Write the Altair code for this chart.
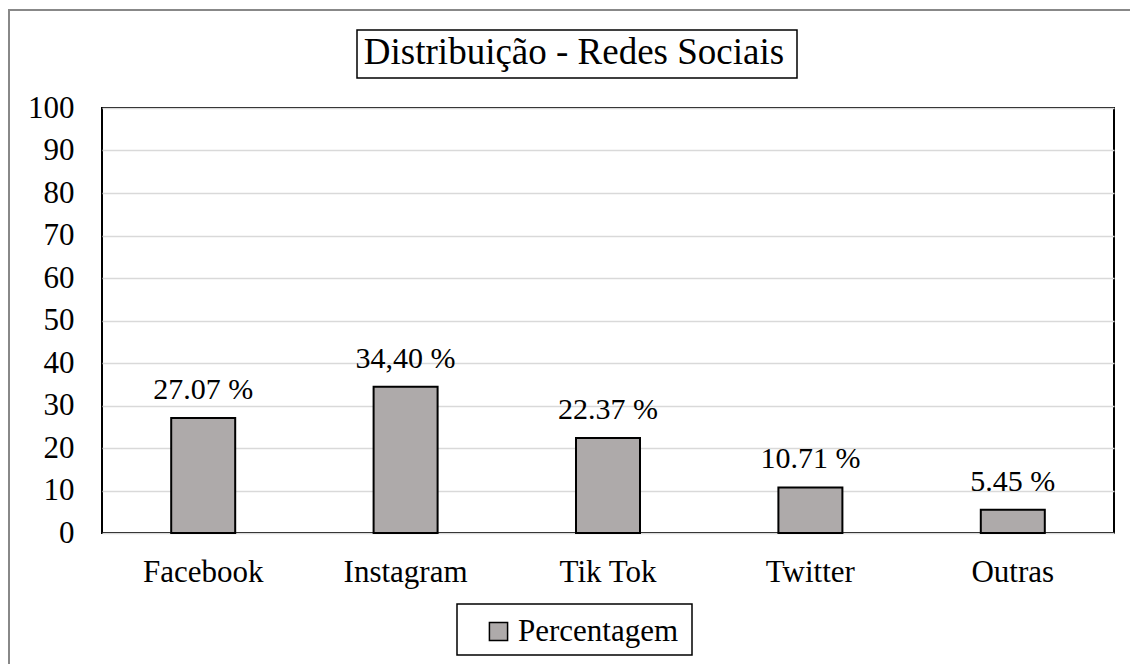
import altair as alt
import pandas as pd

categories = ["Facebook", "Instagram", "Tik Tok", "Twitter", "Outras"]
values = [27.07, 34.40, 22.37, 10.71, 5.45]
labels = ["27.07 %", "34,40 %", "22.37 %", "10.71 %", "5.45 %"]
series = "Percentagem"
title_text = "Distribuição  - Redes Sociais"
y_ticks = [0, 10, 20, 30, 40, 50, 60, 70, 80, 90, 100]

FONT = "Liberation Serif, Times New Roman, serif"

df = pd.DataFrame({"cat": categories, "val": values, "lab": labels, "serie": [series] * len(categories)})
one = pd.DataFrame({"t": [title_text]})

x_enc = alt.X("cat:N", sort=categories, title=None,
              axis=alt.Axis(labelAngle=0, labelFontSize=31, labelFont=FONT, labelColor="black",
                            ticks=False, domain=False, labelPadding=24))
y_enc = alt.Y("val:Q", title=None, scale=alt.Scale(domain=[0, 100], nice=False),
              axis=alt.Axis(values=y_ticks, labelFontSize=31, labelFont=FONT, labelColor="black",
                            ticks=False, domain=False, labelPadding=28,
                            gridColor="#D9D9D9", gridWidth=1.5))

bars = alt.Chart(df).mark_bar(size=64, stroke="black", strokeWidth=2).encode(
    x=x_enc,
    y=y_enc,
    color=alt.Color("serie:N", scale=alt.Scale(range=["#AEAAAA"]), title=None,
                    legend=alt.Legend(orient="none", legendX=381, legendY=508,
                                      symbolType="square", symbolSize=330,
                                      symbolStrokeColor="black", symbolStrokeWidth=1.5,
                                      symbolFillColor="#AEAAAA",
                                      labelFontSize=31, labelFont=FONT, labelColor="black",
                                      labelOffset=4, labelLimit=400, padding=0)),
)

text = alt.Chart(df).mark_text(fontSize=30, font=FONT, color="black", baseline="alphabetic", dy=-19).encode(
    x=alt.X("cat:N", sort=categories),
    y="val:Q",
    text="lab:N",
)

title_mark = alt.Chart(one).mark_text(fontSize=37, font=FONT, color="black", baseline="alphabetic",
                                      align="center").encode(
    x=alt.value(472), y=alt.value(-44), text="t:N"
)
title_box = alt.Chart(one).mark_rect(fill=None, stroke="black", strokeWidth=1.5).encode(
    x=alt.value(255), x2=alt.value(695), y=alt.value(-78), y2=alt.value(-30)
)
legend_box = alt.Chart(one).mark_rect(fill=None, stroke="black", strokeWidth=1.5).encode(
    x=alt.value(355), x2=alt.value(590), y=alt.value(496), y2=alt.value(547)
)
frame = alt.Chart(one).mark_rect(fill=None, stroke="#888888", strokeWidth=2).encode(
    x=alt.value(-93), x2=alt.value(1040), y=alt.value(-98), y2=alt.value(570)
)

chart = alt.layer(bars, text, title_mark, title_box, legend_box, frame).properties(
    width=1012, height=425,
    autosize=alt.AutoSizeParams(type="none"),
    padding={"left": 102, "top": 108, "right": 16, "bottom": 131},
    background="white",
).configure_view(stroke="black", strokeWidth=2)

chart.save("out.html", embed_options={"renderer": "svg", "actions": False})
